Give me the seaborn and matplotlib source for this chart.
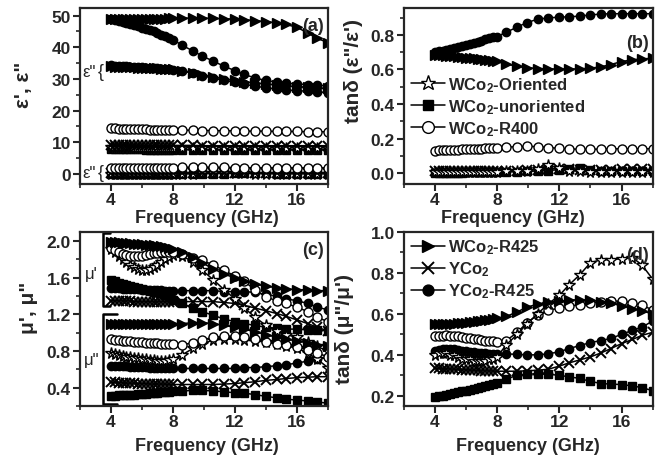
import matplotlib
matplotlib.use("Agg")
import matplotlib.pyplot as plt
import seaborn as sns

# frequency points (GHz): dense C-band sweep then sparse X/Ku-band points
FREQ = [4.0, 4.25, 4.5, 4.75, 5.0, 5.25, 5.5, 5.75, 6.0, 6.25, 6.5, 6.75, 7.0, 7.25, 7.5, 7.75, 8.0,
        8.6, 9.3, 9.9, 10.6, 11.3, 12.0, 12.6, 13.3, 14.0, 14.7, 15.3, 16.0, 16.7, 17.3, 18.0]

# (a) permittivity eps', eps''
eps1_r425 = [48.8, 48.9, 49.0, 49.0, 49.0, 49.0, 49.0, 49.0, 49.0, 49.0, 49.0, 49.0, 49.0, 49.0, 49.0, 49.1, 49.1,
             49.2, 49.2, 49.2, 49.1, 49.0, 48.9, 48.7, 48.4, 48.1, 47.7, 47.2, 46.3, 44.5, 42.8, 41.5]
eps2_r425 = [34.0, 33.9, 33.9, 33.8, 33.8, 33.7, 33.7, 33.6, 33.6, 33.5, 33.5, 33.4, 33.3, 33.2, 33.2, 33.1, 33.0,
             32.6, 31.8, 31.2, 30.6, 30.0, 29.5, 29.1, 28.7, 28.4, 28.1, 27.8, 27.6, 27.4, 27.2, 27.0]
eps1_yr425 = [49.0, 48.7, 48.4, 48.0, 47.7, 47.3, 47.0, 46.6, 46.2, 45.8, 45.4, 45.0, 44.5, 44.0, 43.5, 43.0, 42.4,
              40.6, 38.8, 37.2, 35.6, 34.0, 32.6, 31.4, 30.3, 29.5, 28.9, 28.6, 28.4, 28.2, 28.0, 27.8]
eps2_yr425 = [34.3, 34.2, 34.1, 34.0, 34.0, 33.9, 33.8, 33.8, 33.7, 33.6, 33.5, 33.4, 33.3, 33.2, 33.1, 33.0, 32.9,
              32.5, 31.8, 31.0, 30.2, 29.5, 28.9, 28.3, 27.7, 27.2, 26.8, 26.5, 26.3, 26.1, 25.9, 25.7]
eps1_r400 = [14.4, 14.4, 14.3, 14.3, 14.2, 14.2, 14.2, 14.1, 14.1, 14.1, 14.0, 14.0, 14.0, 14.0, 13.9, 13.9, 13.9,
             13.8, 13.8, 13.7, 13.7, 13.6, 13.6, 13.5, 13.5, 13.5, 13.4, 13.4, 13.4, 13.3, 13.3, 13.3]
eps2_r400 = [1.9, 1.9, 1.9, 1.9, 1.9, 1.9, 1.9, 1.95, 1.95, 1.95, 1.95, 1.95, 2.0, 2.0, 2.0, 2.0, 2.0,
             2.05, 2.1, 2.1, 2.1, 2.05, 2.0, 1.95, 1.9, 1.9, 1.9, 1.9, 1.9, 1.9, 1.9, 1.9]
eps1_yco = [9.2, 9.2, 9.2, 9.1, 9.1, 9.1, 9.1, 9.1, 9.0, 9.0, 9.0, 9.0, 9.0, 9.0, 9.0, 9.0, 9.0,
            9.0, 9.0, 8.9, 8.9, 8.9, 8.9, 8.9, 8.9, 8.9, 8.9, 8.9, 8.9, 8.9, 8.9, 8.9]
eps2_yco = [0.2, 0.2, 0.2, 0.2, 0.2, 0.2, 0.2, 0.2, 0.2, 0.2, 0.2, 0.2, 0.2, 0.2, 0.2, 0.2, 0.2,
            0.2, 0.2, 0.2, 0.2, 0.25, 0.25, 0.2, 0.2, 0.2, 0.2, 0.2, 0.2, 0.2, 0.2, 0.2]
eps1_ori = [8.4, 8.4, 8.4, 8.4, 8.4, 8.4, 8.3, 8.3, 8.3, 8.3, 8.3, 8.3, 8.3, 8.3, 8.3, 8.3, 8.3,
            8.3, 8.3, 8.3, 8.3, 8.3, 8.3, 8.2, 8.2, 8.2, 8.2, 8.2, 8.2, 8.2, 8.2, 8.2]
eps2_ori = [0.05, 0.05, 0.05, 0.05, 0.05, 0.05, 0.05, 0.05, 0.05, 0.05, 0.05, 0.05, 0.05, 0.05, 0.05, 0.05, 0.05,
            0.08, 0.1, 0.12, 0.2, 0.4, 0.25, 0.12, 0.08, 0.07, 0.07, 0.07, 0.07, 0.07, 0.07, 0.07]
eps1_uno = [7.7, 7.7, 7.7, 7.7, 7.7, 7.7, 7.7, 7.7, 7.7, 7.6, 7.6, 7.6, 7.6, 7.6, 7.6, 7.6, 7.6,
            7.6, 7.6, 7.6, 7.6, 7.6, 7.6, 7.6, 7.6, 7.6, 7.6, 7.6, 7.6, 7.6, 7.6, 7.6]
eps2_uno = [0.02, 0.02, 0.02, 0.02, 0.02, 0.02, 0.02, 0.02, 0.02, 0.02, 0.02, 0.02, 0.02, 0.02, 0.02, 0.02, 0.03,
            0.04, 0.06, 0.08, 0.09, 0.11, 0.15, 0.19, 0.25, 0.15, 0.11, 0.09, 0.09, 0.09, 0.09, 0.09]

# (b) dielectric loss tangent
tane_r425 = [0.685, 0.683, 0.681, 0.679, 0.677, 0.675, 0.672, 0.669, 0.666, 0.665, 0.663, 0.661, 0.660, 0.657, 0.653, 0.650, 0.646,
             0.630, 0.618, 0.610, 0.605, 0.603, 0.602, 0.602, 0.603, 0.607, 0.615, 0.628, 0.645, 0.656, 0.660, 0.665]
tane_yr425 = [0.700, 0.704, 0.708, 0.713, 0.718, 0.723, 0.728, 0.735, 0.742, 0.748, 0.754, 0.760, 0.767, 0.773, 0.779, 0.785, 0.790,
              0.815, 0.845, 0.870, 0.890, 0.898, 0.902, 0.904, 0.908, 0.915, 0.920, 0.922, 0.922, 0.922, 0.922, 0.922]
tane_r400 = [0.130, 0.131, 0.132, 0.133, 0.134, 0.135, 0.136, 0.137, 0.138, 0.139, 0.140, 0.141, 0.142, 0.143, 0.144, 0.145, 0.146,
             0.150, 0.153, 0.155, 0.153, 0.148, 0.143, 0.140, 0.138, 0.138, 0.139, 0.140, 0.141, 0.141, 0.141, 0.141]
tane_ori = [0.004, 0.005, 0.004, 0.006, 0.005, 0.006, 0.005, 0.007, 0.006, 0.007, 0.006, 0.008, 0.007, 0.008, 0.008, 0.009, 0.009,
            0.010, 0.012, 0.015, 0.025, 0.045, 0.030, 0.015, 0.010, 0.008, 0.008, 0.008, 0.008, 0.008, 0.008, 0.008]
tane_uno = [0.002, 0.002, 0.003, 0.003, 0.003, 0.003, 0.003, 0.003, 0.004, 0.004, 0.004, 0.004, 0.004, 0.005, 0.005, 0.005, 0.005,
            0.006, 0.008, 0.010, 0.012, 0.015, 0.020, 0.025, 0.032, 0.020, 0.015, 0.012, 0.012, 0.012, 0.012, 0.012]
tane_yco = [0.010, 0.010, 0.010, 0.010, 0.010, 0.010, 0.010, 0.011, 0.011, 0.011, 0.011, 0.011, 0.011, 0.011, 0.012, 0.012, 0.012,
            0.012, 0.015, 0.018, 0.020, 0.025, 0.025, 0.022, 0.020, 0.018, 0.018, 0.020, 0.022, 0.022, 0.022, 0.022]

# (c) permeability mu', mu''
mu1_r425 = [1.99, 1.99, 1.99, 1.98, 1.98, 1.98, 1.97, 1.97, 1.97, 1.96, 1.96, 1.96, 1.95, 1.95, 1.94, 1.93, 1.92,
            1.88, 1.83, 1.76, 1.70, 1.64, 1.60, 1.56, 1.53, 1.51, 1.49, 1.48, 1.47, 1.47, 1.46, 1.46]
mu2_r425 = [1.10, 1.10, 1.10, 1.10, 1.10, 1.10, 1.10, 1.10, 1.10, 1.10, 1.10, 1.10, 1.10, 1.10, 1.10, 1.10, 1.10,
            1.10, 1.11, 1.11, 1.10, 1.08, 1.06, 1.04, 1.01, 0.98, 0.95, 0.93, 0.91, 0.89, 0.87, 0.86]
mu1_r400 = [1.93, 1.90, 1.88, 1.86, 1.85, 1.84, 1.84, 1.84, 1.84, 1.85, 1.86, 1.87, 1.87, 1.88, 1.88, 1.88, 1.88,
            1.86, 1.82, 1.79, 1.74, 1.68, 1.62, 1.56, 1.47, 1.39, 1.35, 1.32, 1.28, 1.23, 1.17, 1.12]
mu2_r400 = [0.93, 0.925, 0.92, 0.915, 0.91, 0.905, 0.90, 0.90, 0.895, 0.89, 0.89, 0.885, 0.885, 0.88, 0.88, 0.88, 0.88,
            0.87, 0.89, 0.92, 0.95, 0.96, 0.965, 0.955, 0.93, 0.90, 0.88, 0.865, 0.845, 0.81, 0.775, 0.74]
mu1_ori = [1.92, 1.88, 1.84, 1.80, 1.77, 1.74, 1.72, 1.70, 1.69, 1.69, 1.70, 1.72, 1.74, 1.77, 1.80, 1.83, 1.85,
           1.84, 1.77, 1.68, 1.58, 1.47, 1.37, 1.27, 1.17, 1.08, 1.02, 0.98, 0.95, 0.90, 0.85, 0.80]
mu2_ori = [0.78, 0.77, 0.76, 0.75, 0.74, 0.73, 0.72, 0.72, 0.71, 0.71, 0.70, 0.70, 0.69, 0.69, 0.69, 0.70, 0.71,
           0.76, 0.83, 0.88, 0.92, 0.93, 0.93, 0.92, 0.91, 0.90, 0.88, 0.86, 0.83, 0.78, 0.71, 0.62]
mu1_yr425 = [1.49, 1.49, 1.49, 1.48, 1.48, 1.48, 1.48, 1.48, 1.47, 1.47, 1.47, 1.47, 1.47, 1.47, 1.46, 1.46, 1.46,
             1.46, 1.46, 1.46, 1.46, 1.45, 1.45, 1.45, 1.44, 1.42, 1.40, 1.37, 1.35, 1.32, 1.28, 1.25]
mu2_yr425 = [0.64, 0.64, 0.64, 0.64, 0.64, 0.63, 0.63, 0.63, 0.63, 0.63, 0.62, 0.62, 0.62, 0.62, 0.62, 0.62, 0.61,
             0.61, 0.61, 0.61, 0.61, 0.61, 0.61, 0.62, 0.62, 0.63, 0.64, 0.65, 0.67, 0.69, 0.71, 0.73]
mu1_uno = [1.58, 1.56, 1.54, 1.53, 1.52, 1.51, 1.50, 1.49, 1.48, 1.47, 1.46, 1.45, 1.44, 1.43, 1.41, 1.39, 1.36,
           1.32, 1.27, 1.23, 1.19, 1.15, 1.12, 1.10, 1.08, 1.06, 1.05, 1.04, 1.04, 1.03, 1.03, 1.02]
mu2_uno = [0.31, 0.31, 0.315, 0.315, 0.32, 0.32, 0.325, 0.33, 0.33, 0.335, 0.34, 0.34, 0.345, 0.35, 0.35, 0.355, 0.36,
           0.365, 0.37, 0.37, 0.365, 0.355, 0.345, 0.34, 0.325, 0.305, 0.29, 0.275, 0.265, 0.255, 0.245, 0.23]
mu1_yco = [1.35, 1.35, 1.35, 1.35, 1.35, 1.35, 1.34, 1.34, 1.34, 1.34, 1.34, 1.34, 1.34, 1.34, 1.34, 1.34, 1.34,
           1.34, 1.34, 1.34, 1.34, 1.33, 1.32, 1.30, 1.27, 1.24, 1.21, 1.18, 1.14, 1.10, 1.06, 1.02]
mu2_yco = [0.46, 0.46, 0.455, 0.455, 0.45, 0.45, 0.45, 0.445, 0.445, 0.445, 0.44, 0.44, 0.44, 0.44, 0.44, 0.435, 0.435,
           0.435, 0.435, 0.435, 0.435, 0.44, 0.445, 0.455, 0.465, 0.48, 0.49, 0.50, 0.51, 0.515, 0.52, 0.52]

# (d) magnetic loss tangent
tanm_r425 = [0.55, 0.55, 0.55, 0.55, 0.552, 0.553, 0.555, 0.557, 0.558, 0.56, 0.562, 0.564, 0.566, 0.568, 0.571, 0.574, 0.578,
             0.588, 0.61, 0.632, 0.648, 0.657, 0.663, 0.667, 0.67, 0.666, 0.66, 0.652, 0.64, 0.626, 0.615, 0.60]
tanm_r400 = [0.49, 0.492, 0.494, 0.495, 0.494, 0.492, 0.49, 0.487, 0.484, 0.481, 0.478, 0.475, 0.473, 0.47, 0.468, 0.466, 0.465,
             0.47, 0.51, 0.555, 0.595, 0.618, 0.628, 0.637, 0.645, 0.652, 0.66, 0.663, 0.662, 0.655, 0.642, 0.62]
tanm_ori = [0.40, 0.41, 0.41, 0.41, 0.40, 0.40, 0.39, 0.38, 0.38, 0.38, 0.37, 0.37, 0.37, 0.37, 0.38, 0.38, 0.39,
            0.45, 0.50, 0.55, 0.60, 0.65, 0.69, 0.74, 0.79, 0.85, 0.865, 0.865, 0.87, 0.875, 0.84, 0.77]
tanm_yr425 = [0.42, 0.425, 0.428, 0.43, 0.43, 0.428, 0.425, 0.42, 0.418, 0.415, 0.413, 0.41, 0.41, 0.408, 0.406, 0.405, 0.405,
              0.405, 0.402, 0.40, 0.40, 0.405, 0.415, 0.43, 0.445, 0.46, 0.47, 0.48, 0.50, 0.52, 0.535, 0.565]
tanm_uno = [0.193, 0.197, 0.201, 0.205, 0.209, 0.213, 0.217, 0.221, 0.225, 0.229, 0.233, 0.237, 0.241, 0.246, 0.252, 0.258, 0.264,
            0.282, 0.300, 0.306, 0.307, 0.305, 0.30, 0.293, 0.285, 0.27, 0.26, 0.257, 0.255, 0.248, 0.24, 0.225]
tanm_yco = [0.335, 0.334, 0.333, 0.332, 0.331, 0.330, 0.329, 0.328, 0.327, 0.326, 0.325, 0.324, 0.323, 0.322, 0.322, 0.321, 0.32,
            0.32, 0.32, 0.322, 0.325, 0.33, 0.345, 0.36, 0.375, 0.39, 0.41, 0.43, 0.455, 0.475, 0.495, 0.51]

LABELS = {
    'ori': 'WCo$_2$-Oriented',
    'uno': 'WCo$_2$-unoriented',
    'r400': 'WCo$_2$-R400',
    'r425': 'WCo$_2$-R425',
    'yco': 'YCo$_2$',
    'yr425': 'YCo$_2$-R425',
}

# marker, size, face colour
MARKERS = {
    'r425': ('>', 6.5, 'black'),
    'yr425': ('o', 6.0, 'black'),
    'r400': ('o', 6.5, 'white'),
    'ori': ('*', 8.5, 'white'),
    'uno': ('s', 5.5, 'black'),
    'yco': ('x', 6.5, 'black'),
}

sns.set_style("ticks")
plt.rcParams['font.family'] = ['Liberation Sans', 'DejaVu Sans']
plt.rcParams['font.weight'] = 'bold'
plt.rcParams['mathtext.fontset'] = 'custom'
plt.rcParams['mathtext.rm'] = 'Liberation Sans:bold'
plt.rcParams['mathtext.it'] = 'Liberation Sans:bold'
plt.rcParams['mathtext.bf'] = 'Liberation Sans:bold'
plt.rcParams['mathtext.default'] = 'rm'


def draw(ax, y, key):
    mk, ms, fc = MARKERS[key]
    sns.lineplot(x=FREQ, y=y, ax=ax, color='black', linewidth=1.1, errorbar=None,
                 marker=mk, markersize=ms, markerfacecolor=fc,
                 markeredgecolor='black', markeredgewidth=1.0 if mk != 'x' else 1.4)
    return ax.lines[-1]


def style_axis(ax, xlim, ylim, ymaj, ymin, panel, panel_y):
    ax.set_xlim(*xlim)
    ax.set_ylim(*ylim)
    ax.set_xticks([4, 8, 12, 16])
    ax.set_xticks([2, 6, 10, 14, 18], minor=True)
    ax.set_yticks(ymaj)
    ax.set_yticks(ymin, minor=True)
    ax.tick_params(which='major', direction='out', length=5, width=1.5, labelsize=12.5, pad=1.5)
    ax.tick_params(axis='x', which='major', pad=0.5)
    ax.tick_params(which='minor', direction='out', length=3, width=1.2)
    for s in ax.spines.values():
        s.set_linewidth(1.6)
    ax.set_xlabel('Frequency (GHz)', fontsize=13, fontweight='bold')
    ax.text(0.985, panel_y, panel, transform=ax.transAxes, ha='right', va='top',
            fontsize=13, fontweight='bold')


fig = plt.figure(figsize=(6.62, 4.64), dpi=100)
ax_a = fig.add_axes([0.1208, 0.6013, 0.3746, 0.3793])
ax_b = fig.add_axes([0.6098, 0.6013, 0.3761, 0.3793])
ax_c = fig.add_axes([0.1208, 0.1228, 0.3746, 0.3750])
ax_d = fig.add_axes([0.6098, 0.1228, 0.3761, 0.3750])

# (a)
for y, k in [(eps1_uno, 'uno'), (eps2_uno, 'uno'), (eps1_ori, 'ori'), (eps2_ori, 'ori'),
             (eps1_yco, 'yco'), (eps2_yco, 'yco'), (eps1_r400, 'r400'), (eps2_r400, 'r400'),
             (eps2_yr425, 'yr425'), (eps1_yr425, 'yr425'), (eps2_r425, 'r425'), (eps1_r425, 'r425')]:
    draw(ax_a, y, k)
style_axis(ax_a, (2, 17.5), (-3.2, 52.4), [0, 10, 20, 30, 40, 50],
           [5, 15, 25, 35, 45], '(a)', 0.95)
ax_a.set_ylabel('ε\', ε"', fontsize=15, fontweight='bold')
ax_a.yaxis.set_label_coords(-0.19, 0.57)
ax_a.xaxis.set_label_coords(0.51, -0.14)
for yf in [0.642, 0.068]:
    ax_a.text(0.036, yf, 'ε"', transform=ax_a.transAxes, ha='center', va='center',
              fontsize=12, fontweight='normal')
    ax_a.text(0.082, yf, '{', transform=ax_a.transAxes, ha='center', va='center',
              fontsize=13, fontweight='normal')

# (b)
hb = {}
for y, k in [(tane_uno, 'uno'), (tane_yco, 'yco'), (tane_ori, 'ori'), (tane_r400, 'r400'),
             (tane_r425, 'r425'), (tane_yr425, 'yr425')]:
    hb[k] = draw(ax_b, y, k)
style_axis(ax_b, (4, 17.85), (-0.063, 0.955), [0.0, 0.2, 0.4, 0.6, 0.8],
           [0.1, 0.3, 0.5, 0.7, 0.9], '(b)', 0.85)
ax_b.set_yticklabels(['0.0', '0.2', '0.4', '0.6', '0.8'])
ax_b.set_ylabel('tanδ (ε"/ε\')', fontsize=15, fontweight='bold')
ax_b.yaxis.set_label_coords(-0.165, 0.65)
ax_b.xaxis.set_label_coords(0.44, -0.14)
ax_b.legend(handles=[hb['ori'], hb['uno'], hb['r400']],
            labels=[LABELS['ori'], LABELS['uno'], LABELS['r400']],
            loc='upper left', bbox_to_anchor=(-0.01, 0.675), frameon=False,
            fontsize=12, handlelength=2.0, handletextpad=0.2, labelspacing=0.2,
            markerscale=1.3, borderaxespad=0.2)

# (c)
for y, k in [(mu2_uno, 'uno'), (mu1_uno, 'uno'), (mu2_yco, 'yco'), (mu1_yco, 'yco'),
             (mu2_yr425, 'yr425'), (mu1_yr425, 'yr425'), (mu2_ori, 'ori'), (mu1_ori, 'ori'),
             (mu2_r400, 'r400'), (mu1_r400, 'r400'), (mu2_r425, 'r425'), (mu1_r425, 'r425')]:
    draw(ax_c, y, k)
style_axis(ax_c, (2, 17.5), (0.2, 2.1), [0.4, 0.8, 1.2, 1.6, 2.0],
           [0.2, 0.6, 1.0, 1.4, 1.8], '(c)', 0.95)
ax_c.set_ylabel('μ\', μ"', fontsize=15, fontweight='bold')
ax_c.yaxis.set_label_coords(-0.17, 0.57)
ax_c.xaxis.set_label_coords(0.51, -0.18)
# brackets grouping mu' and mu''
ax_c.plot([0.121, 0.093, 0.093, 0.121], [0.994, 0.994, 0.575, 0.575], color='black',
          linewidth=1.8, transform=ax_c.transAxes, clip_on=False)
ax_c.plot([0.150, 0.093, 0.093, 0.150], [0.529, 0.529, 0.011, 0.011], color='black',
          linewidth=1.8, transform=ax_c.transAxes, clip_on=False)
ax_c.text(0.046, 0.76, 'μ\'', transform=ax_c.transAxes, ha='center', va='center',
          fontsize=12, fontweight='normal')
ax_c.text(0.046, 0.27, 'μ"', transform=ax_c.transAxes, ha='center', va='center',
          fontsize=12, fontweight='normal')

# (d)
hd = {}
for y, k in [(tanm_uno, 'uno'), (tanm_yco, 'yco'), (tanm_yr425, 'yr425'), (tanm_r400, 'r400'),
             (tanm_ori, 'ori'), (tanm_r425, 'r425')]:
    hd[k] = draw(ax_d, y, k)
style_axis(ax_d, (4, 17.85), (0.15, 1.0), [0.2, 0.4, 0.6, 0.8, 1.0],
           [0.3, 0.5, 0.7, 0.9], '(d)', 0.92)
ax_d.set_ylabel('tanδ (μ"/μ\')', fontsize=15, fontweight='bold')
ax_d.yaxis.set_label_coords(-0.20, 0.45)
ax_d.xaxis.set_label_coords(0.50, -0.18)
ax_d.legend(handles=[hd['r425'], hd['yco'], hd['yr425']],
            labels=[LABELS['r425'], LABELS['yco'], LABELS['yr425']],
            loc='upper left', bbox_to_anchor=(-0.01, 1.025), frameon=False,
            fontsize=12, handlelength=2.0, handletextpad=0.2, labelspacing=0.2,
            markerscale=1.3, borderaxespad=0.2)

fig.savefig('out.png', dpi=100)
